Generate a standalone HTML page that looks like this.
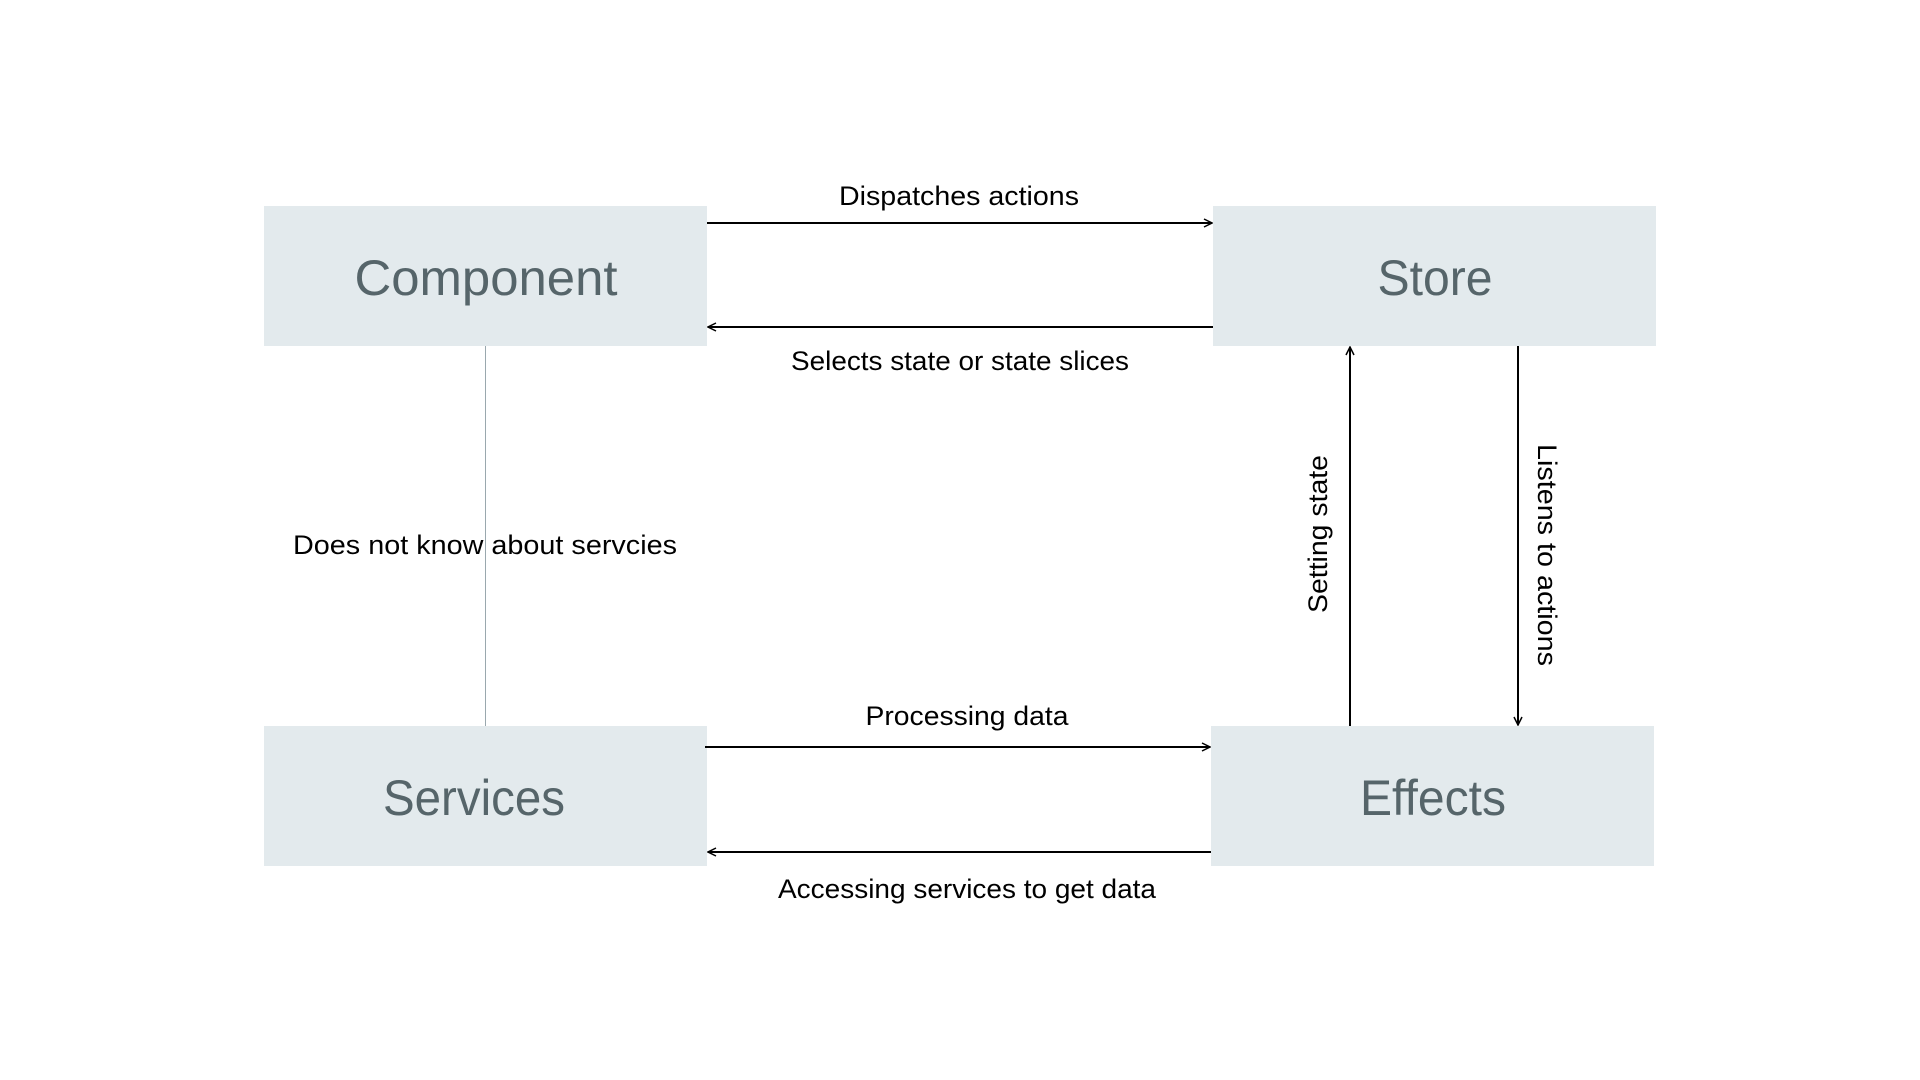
<!DOCTYPE html>
<html><head><meta charset="utf-8"><style>
html,body{margin:0;padding:0;background:#fff;}
svg{display:block;}
</style></head><body>
<svg width="1920" height="1080" viewBox="0 0 1920 1080" xmlns="http://www.w3.org/2000/svg" font-family="Liberation Sans, sans-serif">
<defs>
<marker id="a" viewBox="0 0 10 10" refX="9" refY="5" markerWidth="10" markerHeight="10" markerUnits="userSpaceOnUse" orient="auto">
<path d="M1 1 L9 5 L1 9" fill="none" stroke="#000" stroke-width="1.5"/>
</marker>
</defs>
<rect x="264" y="206" width="443" height="140" fill="#e3eaed"/>
<rect x="1213" y="206" width="443" height="140" fill="#e3eaed"/>
<rect x="264" y="726" width="443" height="140" fill="#e3eaed"/>
<rect x="1211" y="726" width="443" height="140" fill="#e3eaed"/>
<g fill="#56656a" font-size="50" text-anchor="middle">
<text x="486" y="295" textLength="263" lengthAdjust="spacingAndGlyphs">Component</text>
<text x="1435" y="295" textLength="115" lengthAdjust="spacingAndGlyphs">Store</text>
<text x="474" y="815" textLength="182" lengthAdjust="spacingAndGlyphs">Services</text>
<text x="1433" y="815" textLength="146" lengthAdjust="spacingAndGlyphs">Effects</text>
</g>
<g stroke="#000" stroke-width="2" fill="none">
<line x1="707" y1="223" x2="1212" y2="223" marker-end="url(#a)"/>
<line x1="1213" y1="327" x2="708" y2="327" marker-end="url(#a)"/>
<line x1="705" y1="747" x2="1210" y2="747" marker-end="url(#a)"/>
<line x1="1211" y1="852" x2="708" y2="852" marker-end="url(#a)"/>
<line x1="1350" y1="726" x2="1350" y2="347" marker-end="url(#a)"/>
<line x1="1518" y1="346" x2="1518" y2="725" marker-end="url(#a)"/>
</g>
<line x1="485.5" y1="346" x2="485.5" y2="726" stroke="#9aa8ae" stroke-width="1"/>
<g fill="#000" font-size="27" text-anchor="middle">
<text x="959" y="205" textLength="240" lengthAdjust="spacingAndGlyphs">Dispatches actions</text>
<text x="960" y="370" textLength="338" lengthAdjust="spacingAndGlyphs">Selects state or state slices</text>
<text x="967" y="725" textLength="203" lengthAdjust="spacingAndGlyphs">Processing data</text>
<text x="967" y="898" textLength="378" lengthAdjust="spacingAndGlyphs">Accessing services to get data</text>
<text x="485" y="554" textLength="384" lengthAdjust="spacingAndGlyphs">Does not know about servcies</text>
<text transform="translate(1327,534) rotate(-90)" textLength="158" lengthAdjust="spacingAndGlyphs">Setting state</text>
<text transform="translate(1538,555) rotate(90)" textLength="222" lengthAdjust="spacingAndGlyphs">Listens to actions</text>
</g>
</svg>
</body></html>
